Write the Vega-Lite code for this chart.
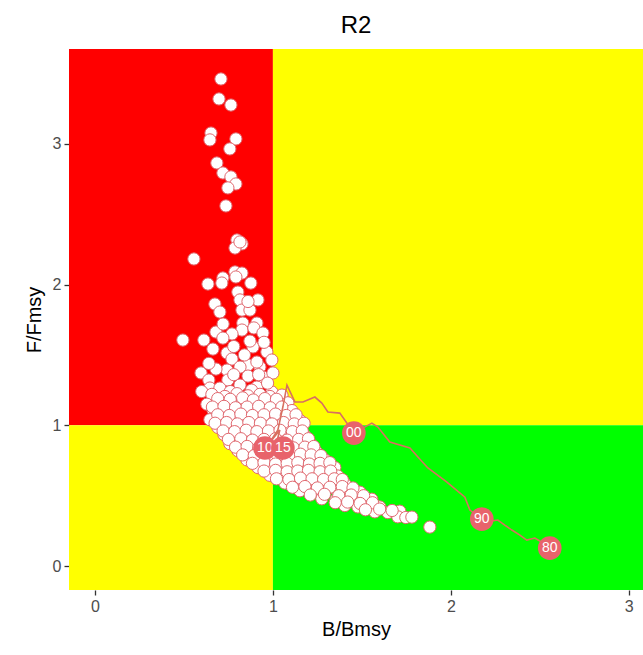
{
  "$schema": "https://vega.github.io/schema/vega-lite/v6.json",
  "width": 574,
  "height": 541,
  "autosize": "none",
  "padding": {"left": 69, "top": 49, "right": 0, "bottom": 65},
  "title": {"text": "R2", "fontSize": 24, "font": "Liberation Sans", "fontWeight": "normal", "color": "#000000", "offset": 11, "anchor": "middle"},
  "config": {
    "view": {"stroke": null},
    "font": "Liberation Sans",
    "axis": {"grid": false, "domain": false, "tickColor": "#333333", "tickSize": 5, "tickWidth": 1.3, "labelFontSize": 16, "labelColor": "#4D4D4D", "labelFont": "Liberation Sans", "titleFont": "Liberation Sans", "titleFontSize": 20, "titleFontWeight": "normal", "titleColor": "#000000", "labelPadding": 3, "format": "d"}
  },
  "datasets": {
    "quad": [
      {"x1": -1, "x2": 1, "y1": 1, "y2": 5, "c": "#FF0000"},
      {"x1": 1, "x2": 5, "y1": 1, "y2": 5, "c": "#FFFF00"},
      {"x1": -1, "x2": 1, "y1": -1, "y2": 1, "c": "#FFFF00"},
      {"x1": 1, "x2": 5, "y1": -1, "y2": 1, "c": "#00FF00"}
    ],
    "pts": [
      {"b": 0.708, "f": 3.461}, {"b": 0.697, "f": 3.319}, {"b": 0.764, "f": 3.276}, {"b": 0.652, "f": 3.077}, {"b": 0.646, "f": 3.028},
      {"b": 0.792, "f": 3.035}, {"b": 0.758, "f": 2.964}, {"b": 0.685, "f": 2.864}, {"b": 0.719, "f": 2.793}, {"b": 0.764, "f": 2.765},
      {"b": 0.792, "f": 2.715}, {"b": 0.747, "f": 2.687}, {"b": 0.736, "f": 2.559}, {"b": 0.798, "f": 2.317}, {"b": 0.826, "f": 2.289},
      {"b": 0.787, "f": 2.260}, {"b": 0.815, "f": 2.303}, {"b": 0.556, "f": 2.182}, {"b": 0.787, "f": 2.090}, {"b": 0.719, "f": 2.047},
      {"b": 0.826, "f": 2.082}, {"b": 0.792, "f": 2.054}, {"b": 0.635, "f": 2.004}, {"b": 0.713, "f": 2.011}, {"b": 0.876, "f": 2.011},
      {"b": 0.803, "f": 1.947}, {"b": 0.674, "f": 1.862}, {"b": 0.702, "f": 1.805}, {"b": 0.815, "f": 1.891}, {"b": 0.916, "f": 1.891},
      {"b": 0.826, "f": 1.819}, {"b": 0.871, "f": 1.819}, {"b": 0.831, "f": 1.727}, {"b": 0.910, "f": 1.727}, {"b": 0.826, "f": 1.677},
      {"b": 0.893, "f": 1.692}, {"b": 0.944, "f": 1.656}, {"b": 0.680, "f": 1.663}, {"b": 0.770, "f": 1.649}, {"b": 0.494, "f": 1.606},
      {"b": 0.612, "f": 1.606}, {"b": 0.719, "f": 1.620}, {"b": 0.663, "f": 1.542}, {"b": 0.888, "f": 1.557}, {"b": 0.871, "f": 1.599},
      {"b": 0.742, "f": 1.514}, {"b": 0.770, "f": 1.471}, {"b": 0.966, "f": 1.521}, {"b": 0.994, "f": 1.464}, {"b": 0.860, "f": 1.429},
      {"b": 0.927, "f": 1.414}, {"b": 0.815, "f": 1.414}, {"b": 0.742, "f": 1.393}, {"b": 0.596, "f": 1.372}, {"b": 0.640, "f": 1.322},
      {"b": 0.747, "f": 1.322}, {"b": 0.944, "f": 1.343}, {"b": 1.000, "f": 1.372}, {"b": 0.646, "f": 1.265}, {"b": 0.702, "f": 1.265},
      {"b": 0.815, "f": 1.286}, {"b": 0.910, "f": 1.272}, {"b": 0.994, "f": 1.237},
      {"b": 0.86, "f": 1.35}, {"b": 0.91, "f": 1.45}, {"b": 0.97, "f": 1.30}, {"b": 0.68, "f": 1.40}, {"b": 0.78, "f": 1.56},
      {"b": 0.95, "f": 1.59}, {"b": 0.72, "f": 1.72}, {"b": 0.86, "f": 1.88}, {"b": 0.88, "f": 1.25}, {"b": 0.60, "f": 1.24},
      {"b": 0.78, "f": 1.36}, {"b": 0.84, "f": 1.50}, {"b": 0.76, "f": 1.24}, {"b": 0.92, "f": 1.36}, {"b": 0.64, "f": 1.44},
      {"b": 0.657, "f": 1.22}, {"b": 0.730, "f": 1.205}, {"b": 0.798, "f": 1.225}, {"b": 0.860, "f": 1.21}, {"b": 0.927, "f": 1.22}, {"b": 0.983, "f": 1.205}, {"b": 1.051, "f": 1.215},
      {"b": 0.629, "f": 1.15}, {"b": 0.691, "f": 1.165}, {"b": 0.758, "f": 1.15}, {"b": 0.826, "f": 1.16}, {"b": 0.888, "f": 1.15}, {"b": 0.955, "f": 1.165}, {"b": 1.017, "f": 1.155}, {"b": 1.084, "f": 1.16},
      {"b": 0.663, "f": 1.11}, {"b": 0.725, "f": 1.095}, {"b": 0.792, "f": 1.105}, {"b": 0.854, "f": 1.095}, {"b": 0.916, "f": 1.11}, {"b": 0.983, "f": 1.10}, {"b": 1.045, "f": 1.09}, {"b": 1.107, "f": 1.105},
      {"b": 0.646, "f": 1.04}, {"b": 0.708, "f": 1.05}, {"b": 0.770, "f": 1.04}, {"b": 0.837, "f": 1.055}, {"b": 0.899, "f": 1.04}, {"b": 0.961, "f": 1.05}, {"b": 1.028, "f": 1.04}, {"b": 1.096, "f": 1.05}, {"b": 1.152, "f": 1.035},
      {"b": 0.691, "f": 0.985}, {"b": 0.753, "f": 0.995}, {"b": 0.815, "f": 0.98}, {"b": 0.882, "f": 0.99}, {"b": 0.944, "f": 0.98}, {"b": 1.011, "f": 0.995}, {"b": 1.079, "f": 0.985}, {"b": 1.140, "f": 0.99},
      {"b": 0.725, "f": 0.935}, {"b": 0.787, "f": 0.925}, {"b": 0.854, "f": 0.935}, {"b": 0.916, "f": 0.925}, {"b": 0.983, "f": 0.94}, {"b": 1.045, "f": 0.925}, {"b": 1.112, "f": 0.935}, {"b": 1.180, "f": 0.925},
      {"b": 0.758, "f": 0.87}, {"b": 0.826, "f": 0.88}, {"b": 0.888, "f": 0.865}, {"b": 0.955, "f": 0.875}, {"b": 1.017, "f": 0.87}, {"b": 1.084, "f": 0.88}, {"b": 1.146, "f": 0.87}, {"b": 1.208, "f": 0.875},
      {"b": 0.803, "f": 0.82}, {"b": 0.865, "f": 0.81}, {"b": 0.933, "f": 0.82}, {"b": 0.994, "f": 0.815}, {"b": 1.062, "f": 0.825}, {"b": 1.124, "f": 0.81}, {"b": 1.185, "f": 0.82}, {"b": 1.242, "f": 0.815},
      {"b": 0.854, "f": 0.755}, {"b": 0.921, "f": 0.765}, {"b": 0.983, "f": 0.755}, {"b": 1.051, "f": 0.765}, {"b": 1.112, "f": 0.76}, {"b": 1.174, "f": 0.75}, {"b": 1.236, "f": 0.765}, {"b": 1.292, "f": 0.755},
      {"b": 0.916, "f": 0.70}, {"b": 0.983, "f": 0.71}, {"b": 1.045, "f": 0.70}, {"b": 1.107, "f": 0.705}, {"b": 1.169, "f": 0.71}, {"b": 1.230, "f": 0.70}, {"b": 1.292, "f": 0.705}, {"b": 1.348, "f": 0.70},
      {"b": 0.983, "f": 0.645}, {"b": 1.051, "f": 0.655}, {"b": 1.112, "f": 0.64}, {"b": 1.180, "f": 0.65}, {"b": 1.242, "f": 0.645}, {"b": 1.303, "f": 0.65}, {"b": 1.365, "f": 0.64},
      {"b": 1.067, "f": 0.59}, {"b": 1.135, "f": 0.595}, {"b": 1.197, "f": 0.585}, {"b": 1.264, "f": 0.59}, {"b": 1.331, "f": 0.595}, {"b": 1.404, "f": 0.585},
      {"b": 1.152, "f": 0.535}, {"b": 1.225, "f": 0.53}, {"b": 1.298, "f": 0.535}, {"b": 1.365, "f": 0.53}, {"b": 1.433, "f": 0.535}, {"b": 1.489, "f": 0.525},
      {"b": 1.275, "f": 0.478}, {"b": 1.354, "f": 0.47}, {"b": 1.433, "f": 0.48}, {"b": 1.500, "f": 0.47}, {"b": 1.556, "f": 0.475},
      {"b": 1.404, "f": 0.43}, {"b": 1.478, "f": 0.42}, {"b": 1.545, "f": 0.43}, {"b": 1.601, "f": 0.42},
      {"b": 1.573, "f": 0.385}, {"b": 1.646, "f": 0.38}, {"b": 1.713, "f": 0.39},
      {"b": 1.702, "f": 0.35}, {"b": 1.747, "f": 0.345}, {"b": 1.781, "f": 0.348},
      {"b": 1.882, "f": 0.277},
      {"b": 0.69, "f": 1.19}, {"b": 0.76, "f": 1.185}, {"b": 0.83, "f": 1.195}, {"b": 0.89, "f": 1.18}, {"b": 0.955, "f": 1.19}, {"b": 1.02, "f": 1.185},
      {"b": 0.66, "f": 1.13}, {"b": 0.725, "f": 1.135}, {"b": 0.79, "f": 1.125}, {"b": 0.855, "f": 1.13}, {"b": 0.92, "f": 1.135}, {"b": 0.985, "f": 1.125}, {"b": 1.05, "f": 1.13},
      {"b": 0.69, "f": 1.075}, {"b": 0.755, "f": 1.07}, {"b": 0.82, "f": 1.08}, {"b": 0.885, "f": 1.07}, {"b": 0.95, "f": 1.075}, {"b": 1.015, "f": 1.08}, {"b": 1.075, "f": 1.07}, {"b": 1.13, "f": 1.075},
      {"b": 0.675, "f": 1.015}, {"b": 0.74, "f": 1.02}, {"b": 0.80, "f": 1.01}, {"b": 0.865, "f": 1.02}, {"b": 0.93, "f": 1.015}, {"b": 0.995, "f": 1.01}, {"b": 1.06, "f": 1.02}, {"b": 1.12, "f": 1.01}, {"b": 1.175, "f": 1.015},
      {"b": 0.72, "f": 0.96}, {"b": 0.785, "f": 0.955}, {"b": 0.85, "f": 0.965}, {"b": 0.91, "f": 0.955}, {"b": 0.975, "f": 0.96}, {"b": 1.04, "f": 0.965}, {"b": 1.11, "f": 0.955}, {"b": 1.165, "f": 0.96},
      {"b": 0.75, "f": 0.90}, {"b": 0.82, "f": 0.905}, {"b": 0.885, "f": 0.895}, {"b": 0.95, "f": 0.90}, {"b": 1.015, "f": 0.905}, {"b": 1.08, "f": 0.895}, {"b": 1.145, "f": 0.90}, {"b": 1.20, "f": 0.905},
      {"b": 0.79, "f": 0.845}, {"b": 0.855, "f": 0.85}, {"b": 0.92, "f": 0.84}, {"b": 0.985, "f": 0.845}, {"b": 1.05, "f": 0.85}, {"b": 1.115, "f": 0.84}, {"b": 1.18, "f": 0.845}, {"b": 1.23, "f": 0.85},
      {"b": 0.83, "f": 0.79}, {"b": 0.895, "f": 0.785}, {"b": 0.96, "f": 0.795}, {"b": 1.025, "f": 0.79}, {"b": 1.09, "f": 0.785}, {"b": 1.155, "f": 0.795}, {"b": 1.215, "f": 0.79}, {"b": 1.27, "f": 0.785},
      {"b": 0.885, "f": 0.73}, {"b": 0.95, "f": 0.735}, {"b": 1.015, "f": 0.725}, {"b": 1.08, "f": 0.73}, {"b": 1.14, "f": 0.735}, {"b": 1.205, "f": 0.725}, {"b": 1.265, "f": 0.73}, {"b": 1.32, "f": 0.735},
      {"b": 0.95, "f": 0.675}, {"b": 1.015, "f": 0.68}, {"b": 1.08, "f": 0.67}, {"b": 1.14, "f": 0.675}, {"b": 1.20, "f": 0.68}, {"b": 1.265, "f": 0.67}, {"b": 1.325, "f": 0.675},
      {"b": 1.02, "f": 0.62}, {"b": 1.09, "f": 0.615}, {"b": 1.155, "f": 0.625}, {"b": 1.22, "f": 0.62}, {"b": 1.285, "f": 0.615}, {"b": 1.345, "f": 0.62}, {"b": 1.39, "f": 0.615},
      {"b": 1.11, "f": 0.56}, {"b": 1.18, "f": 0.565}, {"b": 1.25, "f": 0.555}, {"b": 1.32, "f": 0.56}, {"b": 1.39, "f": 0.565}, {"b": 1.45, "f": 0.555},
      {"b": 1.21, "f": 0.505}, {"b": 1.29, "f": 0.51}, {"b": 1.37, "f": 0.50}, {"b": 1.44, "f": 0.505}, {"b": 1.51, "f": 0.50},
      {"b": 1.35, "f": 0.45}, {"b": 1.42, "f": 0.455}, {"b": 1.49, "f": 0.445}, {"b": 1.56, "f": 0.45},
      {"b": 1.52, "f": 0.40}, {"b": 1.60, "f": 0.405}, {"b": 1.67, "f": 0.395}
    ],
    "traj": [
      {"yr": 1980, "b": 2.556, "f": 0.128}, {"yr": 1981, "b": 2.500, "f": 0.178}, {"yr": 1982, "b": 2.472, "f": 0.199}, {"yr": 1983, "b": 2.427, "f": 0.185},
      {"yr": 1984, "b": 2.388, "f": 0.220}, {"yr": 1985, "b": 2.343, "f": 0.256}, {"yr": 1986, "b": 2.303, "f": 0.291}, {"yr": 1987, "b": 2.264, "f": 0.327},
      {"yr": 1988, "b": 2.230, "f": 0.320}, {"yr": 1989, "b": 2.202, "f": 0.327}, {"yr": 1990, "b": 2.174, "f": 0.334}, {"yr": 1991, "b": 2.107, "f": 0.398},
      {"yr": 1992, "b": 2.079, "f": 0.490}, {"yr": 1993, "b": 1.978, "f": 0.597}, {"yr": 1994, "b": 1.871, "f": 0.697}, {"yr": 1995, "b": 1.815, "f": 0.775},
      {"yr": 1996, "b": 1.770, "f": 0.839}, {"yr": 1997, "b": 1.657, "f": 0.881}, {"yr": 1998, "b": 1.590, "f": 0.988}, {"yr": 1999, "b": 1.556, "f": 1.016},
      {"yr": 2000, "b": 1.455, "f": 0.945}, {"yr": 2001, "b": 1.376, "f": 1.087}, {"yr": 2002, "b": 1.309, "f": 1.095}, {"yr": 2003, "b": 1.275, "f": 1.158},
      {"yr": 2004, "b": 1.236, "f": 1.201}, {"yr": 2005, "b": 1.169, "f": 1.166}, {"yr": 2006, "b": 1.124, "f": 1.166}, {"yr": 2007, "b": 1.079, "f": 1.286},
      {"yr": 2008, "b": 1.056, "f": 1.130}, {"yr": 2009, "b": 1.028, "f": 0.967}, {"yr": 2010, "b": 0.961, "f": 0.839}, {"yr": 2011, "b": 0.994, "f": 0.896},
      {"yr": 2012, "b": 1.039, "f": 0.967}, {"yr": 2013, "b": 1.017, "f": 0.860}, {"yr": 2014, "b": 1.051, "f": 0.896}, {"yr": 2015, "b": 1.056, "f": 0.839}
    ],
    "labs": [
      {"lab": "80", "b": 2.556, "f": 0.128, "last": 0},
      {"lab": "90", "b": 2.174, "f": 0.334, "last": 0},
      {"lab": "00", "b": 1.455, "f": 0.945, "last": 0},
      {"lab": "10", "b": 0.955, "f": 0.839, "last": 0},
      {"lab": "15", "b": 1.056, "f": 0.839, "last": 1}
    ]
  },
  "layer": [
    {
      "data": {"name": "quad"},
      "mark": {"type": "rect", "clip": true},
      "encoding": {
        "x": {"field": "x1", "type": "quantitative", "scale": {"domain": [-0.146, 3.08], "nice": false, "zero": false}, "axis": {"title": "B/Bmsy", "values": [0, 1, 2, 3], "titlePadding": 5}},
        "x2": {"field": "x2"},
        "y": {"field": "y1", "type": "quantitative", "scale": {"domain": [-0.17, 3.674], "nice": false, "zero": false}, "axis": {"title": "F/Fmsy", "values": [0, 1, 2, 3], "titlePadding": 8}},
        "y2": {"field": "y2"},
        "color": {"field": "c", "type": "nominal", "scale": null}
      }
    },
    {
      "data": {"name": "pts"},
      "mark": {"type": "circle", "size": 150, "fill": "#FFFFFF", "stroke": "#E0686F", "strokeWidth": 1, "opacity": 1, "clip": true},
      "encoding": {
        "x": {"field": "b", "type": "quantitative"},
        "y": {"field": "f", "type": "quantitative"}
      }
    },
    {
      "data": {"name": "traj"},
      "mark": {"type": "line", "color": "#D87060", "strokeWidth": 1.6, "clip": true},
      "encoding": {
        "x": {"field": "b", "type": "quantitative"},
        "y": {"field": "f", "type": "quantitative"},
        "order": {"field": "yr", "type": "quantitative"}
      }
    },
    {
      "data": {"name": "labs"},
      "transform": [{"filter": "datum.last == 0"}],
      "mark": {"type": "circle", "size": 560, "fill": "#E8636B", "opacity": 1},
      "encoding": {
        "x": {"field": "b", "type": "quantitative"},
        "y": {"field": "f", "type": "quantitative"}
      }
    },
    {
      "data": {"name": "labs"},
      "transform": [{"filter": "datum.last == 0"}],
      "mark": {"type": "text", "color": "#FFFFFF", "fontSize": 14, "font": "Liberation Sans", "align": "center", "baseline": "middle"},
      "encoding": {
        "x": {"field": "b", "type": "quantitative"},
        "y": {"field": "f", "type": "quantitative"},
        "text": {"field": "lab"}
      }
    },
    {
      "data": {"name": "labs"},
      "transform": [{"filter": "datum.last == 1"}],
      "mark": {"type": "circle", "size": 560, "fill": "#E8636B", "opacity": 1},
      "encoding": {
        "x": {"field": "b", "type": "quantitative"},
        "y": {"field": "f", "type": "quantitative"}
      }
    },
    {
      "data": {"name": "labs"},
      "transform": [{"filter": "datum.last == 1"}],
      "mark": {"type": "text", "color": "#FFFFFF", "fontSize": 14, "font": "Liberation Sans", "align": "center", "baseline": "middle"},
      "encoding": {
        "x": {"field": "b", "type": "quantitative"},
        "y": {"field": "f", "type": "quantitative"},
        "text": {"field": "lab"}
      }
    }
  ]
}
